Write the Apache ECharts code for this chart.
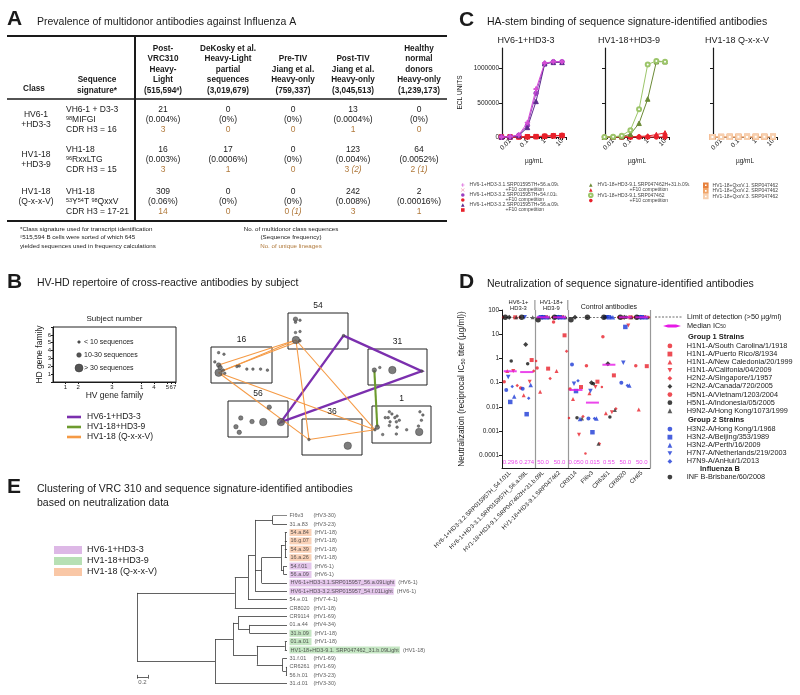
<!DOCTYPE html>
<html><head><meta charset="utf-8">
<script src="https://cdn.jsdelivr.net/npm/echarts@6/dist/echarts.min.js"></script>
<style>html,body{margin:0;padding:0;background:#fff}#c{width:800px;height:695px}</style>
</head><body><div id="c"></div>
<script>
const FONT = "'Liberation Sans', Arial, Helvetica, sans-serif";

// ---------------- Panel A : table data ----------------
const tableHeaders = [
  ['Post-', 'VRC310', 'Heavy-', 'Light', '(515,594{s|#})'],
  ['DeKosky et al.', 'Heavy-Light', 'partial', 'sequences', '(3,019,679)'],
  ['Pre-TIV', 'Jiang et al.', 'Heavy-only', '(759,337)'],
  ['Post-TIV', 'Jiang et al.', 'Heavy-only', '(3,045,513)'],
  ['Healthy', 'normal', 'donors', 'Heavy-only', '(1,239,173)']
];
const classNames = [['HV6-1', '+HD3-3'], ['HV1-18', '+HD3-9'], ['HV1-18', '(Q-x-x-V)']];
const signatures = [
  ['VH6-1 + D3-3', '{s|98}MIFGI', 'CDR H3 = 16'],
  ['VH1-18', '{s|96}RxxLTG', 'CDR H3 = 15'],
  ['VH1-18', '{s|53}Y{s|54}T {s|98}QxxV', 'CDR H3 = 17-21']
];
const seqCounts = [[21, 0, 0, 13, 0], [16, 17, 0, 123, 64], [309, 0, 0, 242, 2]];
const seqFreq = [
  ['0.004%', '0%', '0%', '0.0004%', '0%'],
  ['0.003%', '0.0006%', '0%', '0.004%', '0.0052%'],
  ['0.06%', '0%', '0%', '0.008%', '0.00016%']
];
const lineages = [
  ['3', '0', '0', '1', '0'],
  ['3', '1', '0', '3 {i|(2)}', '2 {i|(1)}'],
  ['14', '0', '0 {i|(1)}', '3', '1']
];

// ---------------- Panel B : subject repertoire ----------------
const subjects = ['54', '16', '31', '56', '36', '1'];
const pts54 = [[1.0,5.8,2],[1.0,5.2,1],[1.6,5.6,1],[1.0,3.2,1],[1.6,3.4,1],[1.06,1.75,3],[1.6,1.6,1],[7.4,2.6,1]];
const pts16 = [[1.0,5.9,1],[1.7,5.6,1],[0.5,4.1,1],[1.0,3.5,2],[1.2,3.0,2],[1.0,2.0,3],[1.6,2.5,1],[1.8,1.9,1],[3.4,3.2,1],[3.7,3.3,1],[4.7,2.7,1],[5.5,2.7,1],[6.5,2.7,1],[7.4,2.5,1]];
const pts31 = [[0.86,2.9,2],[1.6,3.4,1],[3.3,2.9,3],[7.3,2.7,1]];
const pts56 = [[5.5,5.8,2],[1.7,3.7,2],[3.2,3.0,2],[4.7,2.9,3],[7.05,2.9,3],[1.06,2.0,2],[1.5,0.9,2]];
const pts36 = [[0.93,3.0,1],[6.1,1.8,3]];
const pts1 = [[2.35,5.9,1],[2.7,5.5,1],[1.8,4.8,1],[2.2,4.8,1],[3.1,4.8,1],[3.4,5.1,1],[3.7,4.3,1],[2.45,4.0,1],[3.3,4.0,1],[2.35,3.3,1],[3.4,3.0,1],[4.7,2.5,1],[0.72,3.0,2],[1.45,1.6,1],[3.3,1.7,1],[0.4,2.5,1],[6.4,2.1,3],[6.5,5.9,1],[6.9,5.3,1],[6.7,4.3,1],[6.3,3.2,1]];
const subjectPts = {'54': pts54, '16': pts16, '31': pts31, '56': pts56, '36': pts36, '1': pts1};
const linkClasses = ['HV6-1+HD3-3', 'HV1-18+HD3-9', 'HV1-18 (Q-x-x-V)'];
const links = [
  [0, [['54',7],['31',3],['56',4],['54',7]]],
  [1, [['31',0],['1',12]]],
  [2, [['16',3],['54',5]]], [2, [['16',5],['54',5]]], [2, [['16',6],['54',6]]],
  [2, [['16',5],['1',15]]], [2, [['16',5],['36',0]]], [2, [['54',5],['36',0]]],
  [2, [['54',5],['1',15]]], [2, [['36',0],['1',15]]]
];
const sizeLegend = ['< 10 sequences', '10-30 sequences', '> 30 sequences'];
const hvTickLabels = ['1', '2', '3', '1', '4', '5', '6', '7'];

// ---------------- Panel C : binding ----------------
const concC = [0.00316, 0.01, 0.0316, 0.1, 0.316, 1, 3.16, 10];
const bindTitles = ['HV6-1+HD3-3', 'HV1-18+HD3-9', 'HV1-18 Q-x-x-V'];
const bindNames = [
  'HV6-1+HD3-3.1.SRP015957H+56.a.09L', 'HV6-1+HD3-3.1 c',
  'HV6-1+HD3-3.2.SRP015957H+54.f.01L', 'HV6-1+HD3-3.2a c',
  'HV6-1+HD3-3.2.SRP015957H+56.a.09L', 'HV6-1+HD3-3.2b c',
  'HV1-18+HD3-9.1.SRP047462H+31.b.09L', 'HV1-18+HD3-9.1a c',
  'HV1-18+HD3-9.1.SRP047462', 'HV1-18+HD3-9.1b c',
  'HV1-18+QxxV.1. SRP047462', 'HV1-18+QxxV.2. SRP047462', 'HV1-18+QxxV.3. SRP047462'
];
const bindPanel = [0,0,0,0,0,0,1,1,1,1,2,2,2];
const bindECL = [
  [0, 5000, 30000, 210000, 700000, 1080000, 1100000, 1100000],
  [0, 1000, 2000, 3000, 5000, 12000, 18000, 22000],
  [0, 3000, 25000, 170000, 640000, 1070000, 1100000, 1100000],
  [0, 1000, 2000, 4000, 6000, 14000, 20000, 25000],
  [0, 2000, 20000, 140000, 520000, 1070000, 1090000, 1090000],
  [0, 500, 1500, 3000, 5000, 10000, 16000, 20000],
  [0, 1000, 5000, 40000, 200000, 555000, 1100000, 1100000],
  [0, 1000, 2000, 3000, 8000, 15000, 35000, 60000],
  [0, 2000, 20000, 100000, 405000, 1060000, 1110000, 1100000],
  [0, 0, 500, 1000, 500, 1000, 500, 0],
  [0, 2000, 3000, 2000, 4000, 3000, 5000, 4000],
  [0, 1000, 2000, 3000, 2000, 4000, 3000, 5000],
  [0, 500, 1000, 2000, 1000, 2000, 2000, 3000]
];
const cTicksY = [0, 500000, 1000000];

// ---------------- Panel D : neutralization ----------------
const antibodies = ['HV6-1+HD3-3.2.SRP015957H_54.f.01L', 'HV6-1+HD3-3.1.SRP015957H_56.a.09L',
  'HV1-18+HD3-9.1.SRP047462H+31.b.09L', 'HV1-18+HD3-9.1.SRP047462', 'CR9114', 'FI6v3', 'CR6261', 'CR8020', 'CH65'];
const strainNames = ['H1N1-A/South Carolina/1/1918', 'H1N1-A/Puerto Rico/8/1934', 'H1N1-A/New Caledonia/20/1999',
  'H1N1-A/Califonia/04/2009', 'H2N2-A/Singapore/1/1957', 'H2N2-A/Canada/720/2005', 'H5N1-A/Vietnam/1203/2004',
  'H5N1-A/Indonesia/05/2005', 'H9N2-A/Hong Kong/1073/1999', 'H3N2-A/Hong Kong/1/1968', 'H3N2-A/Beijing/353/1989',
  'H3N2-A/Perth/16/2009', 'H7N7-A/Netherlands/219/2003', 'H7N9-A/AnHui/1/2013', 'INF B-Brisbane/60/2008'];
const neutIC50 = [
  [0.11, 0.06, 0.4, 32, 0.055, 0.5, 7.9, 50, 0.5],
  [50, 0.86, 0.38, 9, 0.066, 0.11, 0.2, 50, 0.48],
  [0.3, 0.03, 0.042, 0.3, 0.021, 0.037, 0.0055, 50, 0.0078],
  [0.3, 0.11, 50, 50, 0.0007, 0.066, 0.006, 23, 50],
  [0.076, 0.3, 0.15, 2, 0.004, 0.0003, 0.0083, 50, 50],
  [50, 3.8, 50, 50, 50, 0.1, 0.6, 50, 50],
  [50, 50, 0.78, 50, 0.0035, 0.00012, 0.066, 50, 50],
  [0.78, 0.6, 50, 50, 0.0036, 0.09, 0.0038, 50, 50],
  [50, 50, 50, 50, 0.0033, 0.0003, 0.0074, 50, 50],
  [0.05, 0.056, 50, 50, 0.56, 0.0033, 50, 0.1, 50],
  [0.016, 0.005, 50, 50, 0.045, 0.0009, 50, 20, 50],
  [0.027, 0.08, 50, 50, 0.0032, 0.0033, 50, 0.077, 50],
  [0.17, 50, 50, 50, 0.09, 0.045, 50, 0.66, 50],
  [0.07, 0.023, 50, 50, 0.12, 0.0033, 50, 0.077, 50],
  [50, 50, 40, 50, 40, 50, 50, 50, 50]
];
const medianIC50 = [0.296, 0.274, 50, 50, 0.050, 0.015, 0.55, 50, 50];
const medianLabels = ['0.296', '0.274', '50.0', '50.0', '0.050', '0.015', '0.55', '50.0', '50.0'];
const detectionLimit = 50;

// ---------------- Panel E : tree ----------------
const leafNames = ['FI6v3', '31.a.83', '54.a.84', '16.g.07', '54.a.39', '16.a.26', '54.f.01', '56.a.09',
  'HV6-1+HD3-3.1.SRP015957_56.a.09Light', 'HV6-1+HD3-3.2.SRP015957_54.f.01Light', '54.e.01', 'CR8020',
  'CR9114', '01.a.44', '31.b.09', '01.a.01', 'HV1-18+HD3-9.1. SRP047462_31.b.09Light', '31.f.01', 'CR6261', '56.h.01', '31.d.01'];
const leafGenes = ['HV3-30', 'HV3-23', 'HV1-18', 'HV1-18', 'HV1-18', 'HV1-18', 'HV6-1', 'HV6-1', 'HV6-1', 'HV6-1',
  'HV7-4-1', 'HV1-18', 'HV1-69', 'HV4-34', 'HV1-18', 'HV1-18', 'HV1-18', 'HV1-69', 'HV1-69', 'HV3-23', 'HV3-30'];
const leafClass = [0,0,3,3,3,3,1,1,1,1,0,0,0,0,2,2,2,0,0,0,0];
const treeTopology = [0, [
  [1.78, [
    [2.02, [
      [2.15, [
        [2.47, [0, 1]],
        [2.27, [
          [2.62, [[2.69, [2, 3, 4, 5]], [2.67, [6, 7]]]],
          8
        ]],
        9
      ]],
      10
    ]],
    11
  ]],
  [1.42, [
    [1.75, [
      [1.84, [12, [2.05, [13, 14]]]],
      [2.18, [[2.69, [15, 16]], [2.65, [17, [2.71, [18, 19]]]]]]
    ]],
    20
  ]]
]];
const tipDepth = 2.73;
const scaleBar = 0.2;
const treeClasses = ['HV6-1+HD3-3', 'HV1-18+HD3-9', 'HV1-18 (Q-x-x-V)'];

// ================= styles / layout =================
const classColors = ['#7b2fae', '#6d9b2e', '#f59a45'];
const hlColors = ['#ddb8e6', '#b7e0b4', '#f9c7a6'];
const bindStyle = [
  {c:'#d64fd6', s:'path://M4,0H6V4H10V6H6V10H4V6H0V4H4Z', z:5},
  {c:'#ee7d9c', s:'path://M1,0L5,4L9,0L10,1L6,5L10,9L9,10L5,6L1,10L0,9L4,5L0,1Z', z:3},
  {c:'#9b3fc0', s:'circle', z:4},
  {c:'#e8202a', s:'circle', z:3},
  {c:'#5c2a8c', s:'triangle', z:4},
  {c:'#e8202a', s:'rect', z:3},
  {c:'#6b8a36', s:'triangle', z:4},
  {c:'#e8202a', s:'triangle', z:3},
  {c:'#9cc56a', s:'emptyCircle', z:4},
  {c:'#e8202a', s:'circle', z:3},
  {c:'#e7813d', s:'emptyRect', z:3},
  {c:'#f0a468', s:'emptyRect', z:3},
  {c:'#f7cfae', s:'emptyRect', z:3}
];
const INV = 'path://M0,0L10,0L5,9Z';
const strainStyle = [
  {c:'#e8202a', s:'circle', z:3.5}, {c:'#e8202a', s:'rect', z:4}, {c:'#e8202a', s:'triangle', z:4},
  {c:'#e8202a', s:INV, z:4}, {c:'#e8202a', s:'diamond', z:3.5}, {c:'#111', s:'diamond', z:5},
  {c:'#e8202a', s:'circle', z:2.5}, {c:'#111', s:'circle', z:3.5}, {c:'#333', s:'triangle', z:4},
  {c:'#1c3ad6', s:'circle', z:4}, {c:'#1c3ad6', s:'rect', z:4.5}, {c:'#1c3ad6', s:'triangle', z:4.5},
  {c:'#1c3ad6', s:INV, z:4.5}, {c:'#1c3ad6', s:'diamond', z:3.5}, {c:'#111', s:'circle', z:5.5}
];
const strainOffset = [-6, 5, -3, 3, 7, -1, -7, 1, 6, -4, 0, 4, -2, 2, -5];
const sizeBySeq = [0, 2.6, 4.5, 7.5];

const subjGeom = {'54':[288,313,60,36], '16':[211,347,61,36], '31':[368,349,59,36], '56':[228,401,60,36], '36':[302,419,60,36], '1':[372,406,59,37]};
const grids = [
  {left:502, top:48, width:64, height:89},
  {left:605, top:48, width:64, height:89},
  {left:713, top:48, width:64, height:89},
  {left:502, top:310, width:148, height:158},
  {left:137, top:515.7, width:150, height:168},
  {left:53, top:327, width:123, height:55, show:true, borderColor:'#222', borderWidth:1}
];
subjects.forEach(s => { const g = subjGeom[s]; grids.push({left:g[0], top:g[1], width:g[2], height:g[3], show:true, borderColor:'#222', borderWidth:1}); });
const subjGrid = {}; subjects.forEach((s, i) => subjGrid[s] = 6 + i);
const hvTickPos = [1.0, 2.05, 4.8, 7.2, 8.2, 9.3, 9.6, 9.9];

// ================= helpers =================
function txt(x, y, text, o) {
  o = o || {};
  const st = {text: text, x: x, y: y, fill: o.fill || '#1a1a1a', fontSize: o.size || 8.5, fontFamily: FONT,
    fontWeight: o.weight || 'normal', fontStyle: o.style || 'normal',
    align: o.align || 'left', verticalAlign: o.va || 'middle', textAlign: o.align || 'left', textVerticalAlign: o.va || 'middle'};
  if (o.rich) st.rich = o.rich;
  const el = {type: 'text', silent: true, z: o.z || 10, style: st};
  if (o.rotation) el.rotation = o.rotation;
  return el;
}
function ln(x1, y1, x2, y2, w, c, dash) {
  const st = {stroke: c || '#1a1a1a', lineWidth: w || 1};
  if (dash) st.lineDash = dash;
  return {type: 'line', silent: true, z: 8, shape: {x1, y1, x2, y2}, style: st};
}
const supRich = (fs, fw) => ({
  s: {fontSize: fs, fontFamily: FONT, fontWeight: fw || 'normal', verticalAlign: 'top', fill: '#1a1a1a'},
  i: {fontSize: 8.3, fontFamily: FONT, fontStyle: 'italic', fill: '#b0793b'}
});
const logFmt = v => {
  const l = Math.log10(v);
  if (Math.abs(l - Math.round(l)) > 0.01) return '';
  const r = Math.round(l);
  return r >= 0 ? String(Math.pow(10, r)) : Math.pow(10, r).toFixed(-r);
};

// ================= graphic =================
const G = [];
// Panel A
G.push(txt(7, 19, 'A', {size: 21, weight: 'bold'}));
G.push(txt(37, 22, 'Prevalence of multidonor antibodies against Influenza A', {size: 10.5}));
G.push(ln(7, 36, 447, 36, 2));
G.push(ln(7, 99, 447, 99, 1.5));
G.push(ln(135, 36, 135, 221, 2));
G.push(ln(7, 221, 447, 221, 2));
const colX = [163, 228, 293, 353, 419];
G.push(txt(34, 89, 'Class', {size: 8.2, weight: 'bold', align: 'center'}));
G.push(txt(97, 80, 'Sequence', {size: 8.2, weight: 'bold', align: 'center'}));
G.push(txt(97, 90.5, 'signature*', {size: 8.2, weight: 'bold', align: 'center'}));
tableHeaders.forEach((L, c) => L.forEach((t, k) =>
  G.push(txt(colX[c], 90.5 - (L.length - 1 - k) * 10.5, t, {size: 8.2, weight: 'bold', align: 'center', rich: supRich(5.5, 'bold')}))));
const rowY = [110, 149.5, 192];
const classY = [[115, 125], [154.5, 164.5], [192, 202]];
classNames.forEach((L, r) => L.forEach((t, k) => G.push(txt(36, classY[r][k], t, {size: 8.5, align: 'center'}))));
signatures.forEach((L, r) => L.forEach((t, k) => G.push(txt(66, rowY[r] + k * 10, t, {size: 8.5, rich: supRich(5.5)}))));
seqCounts.forEach((row, r) => row.forEach((v, c) => {
  G.push(txt(colX[c], rowY[r], String(v), {size: 8.5, align: 'center'}));
  G.push(txt(colX[c], rowY[r] + 10, '(' + seqFreq[r][c] + ')', {size: 8.5, align: 'center'}));
  G.push(txt(colX[c], rowY[r] + 20, lineages[r][c], {size: 8.5, align: 'center', fill: '#b0793b', rich: supRich(5.5)}));
}));
G.push(txt(20, 229, '*Class signature used for transcript identification', {size: 6.2}));
G.push(txt(20, 237.5, '{s|#}515,594 B cells were sorted of which 645', {size: 6.2, rich: supRich(4.2)}));
G.push(txt(20, 246, 'yielded sequences used in frequency calculations', {size: 6.2}));
G.push(txt(291, 229, 'No. of multidonor class sequences', {size: 6.2, align: 'center'}));
G.push(txt(291, 237.5, '(Sequence frequency)', {size: 6.2, align: 'center'}));
G.push(txt(291, 246, 'No. of unique lineages', {size: 6.2, align: 'center', fill: '#b0793b'}));

// Panel B
G.push(txt(7, 282, 'B', {size: 21, weight: 'bold'}));
G.push(txt(37, 283, 'HV-HD repertoire of cross-reactive antibodies by subject', {size: 10.5}));
G.push(txt(114.5, 319, 'Subject number', {size: 8, align: 'center'}));
const legDotY = [342, 355, 368], legDotR = [1.3, 2.3, 4.0];
sizeLegend.forEach((t, i) => {
  G.push({type: 'circle', silent: true, z: 9, shape: {cx: 79, cy: legDotY[i], r: legDotR[i]}, style: {fill: '#555', stroke: '#333', lineWidth: 0.5}});
  G.push(txt(84, legDotY[i], t, {size: 7}));
});
linkClasses.forEach((t, i) => {
  G.push(ln(67, 417 + i * 10, 81, 417 + i * 10, 2.6, classColors[i]));
  G.push(txt(87, 417 + i * 10, t, {size: 8.5}));
});
subjects.forEach(s => { const g = subjGeom[s]; G.push(txt(g[0] + g[2] / 2, g[1] - 7, s, {size: 8.5, align: 'center'})); });

// Panel C
G.push(txt(459, 20, 'C', {size: 21, weight: 'bold'}));
G.push(txt(487, 22, 'HA-stem binding of sequence signature-identified antibodies', {size: 10.5}));
bindTitles.forEach((t, i) => G.push(txt(grids[i].left + 24, 41, t, {size: 9, align: 'center'})));

// Panel D
G.push(txt(459, 282, 'D', {size: 21, weight: 'bold'}));
G.push(txt(487, 284, 'Neutralization of sequence signature-identified antibodies', {size: 10.5}));
const catW = grids[3].width / antibodies.length;
G.push(txt(502 + catW, 302.5, 'HV6-1+', {size: 5.8, align: 'center'}));
G.push(txt(502 + catW, 308, 'HD3-3', {size: 5.8, align: 'center'}));
G.push(txt(502 + 3 * catW, 302.5, 'HV1-18+', {size: 5.8, align: 'center'}));
G.push(txt(502 + 3 * catW, 308, 'HD3-9', {size: 5.8, align: 'center'}));
G.push(txt(502 + 6.5 * catW, 307, 'Control antibodies', {size: 7, align: 'center'}));
G.push(ln(502 + 2 * catW, 300, 502 + 2 * catW, 310, 1.2, '#999'));
G.push(ln(502 + 4 * catW, 300, 502 + 4 * catW, 310, 1.2, '#999'));
G.push(ln(655, 317, 682, 317, 0.8, '#444', [2, 1.5]));
G.push(txt(687, 317, 'Limit of detection (>50 \u00b5g/ml)', {size: 7.3}));
G.push({type: 'polygon', silent: true, z: 9, shape: {points: [[663, 326], [668, 324.6], [676, 324.6], [681, 326], [676, 327.4], [668, 327.4]]}, style: {fill: '#e619e6'}});
G.push(txt(687, 326, 'Median IC{b|50}', {size: 7.3, rich: {b: {fontSize: 5, fontFamily: FONT, verticalAlign: 'bottom'}}}));
G.push(txt(688, 337, 'Group 1 Strains', {size: 7.5, weight: 'bold'}));
G.push(txt(688, 420, 'Group 2 Strains', {size: 7.5, weight: 'bold'}));
G.push(txt(700, 468.5, 'Influenza B', {size: 7.5, weight: 'bold'}));

// Panel E
G.push(txt(7, 487, 'E', {size: 21, weight: 'bold'}));
G.push(txt(37, 489, 'Clustering of VRC 310 and sequence signature-identified antibodies', {size: 10.5}));
G.push(txt(37, 503, 'based on neutralization data', {size: 10.5}));
treeClasses.forEach((t, i) => {
  G.push({type: 'rect', silent: true, z: 8, shape: {x: 54, y: 546 + i * 11, width: 28, height: 8}, style: {fill: hlColors[i]}});
  G.push(txt(87, 550 + i * 11, t, {size: 9}));
});

// ================= tree layout =================
const treeSegs = [];
function walk(node) {
  if (typeof node === 'number') return {y: node, d: tipDepth};
  const d = node[0];
  const kids = node[1].map(walk);
  const y0 = kids[0].y, y1 = kids[kids.length - 1].y;
  treeSegs.push([[d, y0], [d, y1]]);
  kids.forEach(k => treeSegs.push([[d, k.y], [k.d, k.y]]));
  return {y: (y0 + y1) / 2, d: d};
}
walk(treeTopology);
const sbY = 19.25;

// ================= series =================
const series = [];
bindNames.forEach((n, i) => {
  const st = bindStyle[i];
  series.push({
    type: 'line', name: n, xAxisIndex: bindPanel[i], yAxisIndex: bindPanel[i],
    data: concC.map((c, k) => [c, bindECL[i][k]]), symbol: st.s, symbolSize: st.s.startsWith('empty') ? 4 : 4.5,
    showSymbol: true, clip: false, z: st.z, color: st.c, lineStyle: {width: 1, color: st.c},
    itemStyle: {color: st.c, borderColor: st.c}
  });
});
strainNames.forEach((n, i) => {
  const st = strainStyle[i];
  series.push({
    type: 'scatter', name: n, xAxisIndex: 3, yAxisIndex: 3,
    data: neutIC50[i].map((v, k) => v == null ? null : [k, v]),
    symbol: st.s, symbolSize: st.z, symbolOffset: [strainOffset[i], 0], z: 3,
    itemStyle: {color: st.c}, color: st.c
  });
});
series.push({
  type: 'scatter', name: 'Median IC50', xAxisIndex: 3, yAxisIndex: 3, z: 6,
  data: medianIC50.map((v, k) => [k, v]), symbol: 'rect', symbolSize: [13, 2], itemStyle: {color: '#e619e6'},
  markLine: {silent: true, symbol: 'none', label: {show: false}, z: 1,
    lineStyle: {type: [2, 1.5], color: '#555', width: 0.8}, data: [{yAxis: detectionLimit}]}
});
series.push({
  type: 'scatter', name: 'medianText', xAxisIndex: 3, yAxisIndex: 3, z: 6, symbolSize: 0,
  data: medianLabels.map((t, k) => [k, 0.000052]),
  label: {show: true, position: 'inside', fontSize: 6, fontFamily: FONT, color: '#e619e6', formatter: p => medianLabels[p.dataIndex]}
});
// tree
series.push({
  type: 'lines', coordinateSystem: 'cartesian2d', xAxisIndex: 4, yAxisIndex: 4, silent: true, z: 3,
  data: treeSegs.map(s => ({coords: s})), lineStyle: {color: '#3a3a3a', width: 0.8, opacity: 1}
});
series.push({
  type: 'lines', coordinateSystem: 'cartesian2d', xAxisIndex: 4, yAxisIndex: 4, silent: true, z: 3,
  data: [{coords: [[0, sbY], [scaleBar, sbY]]}, {coords: [[0, sbY - 0.3], [0, sbY + 0.15]]}, {coords: [[scaleBar, sbY - 0.3], [scaleBar, sbY + 0.15]]}],
  lineStyle: {color: '#3a3a3a', width: 0.8, opacity: 1}
});
series.push({
  type: 'scatter', xAxisIndex: 4, yAxisIndex: 4, symbolSize: 0, silent: true,
  data: [[scaleBar / 2, sbY]],
  label: {show: true, position: 'bottom', distance: 1.5, fontSize: 6, fontFamily: FONT, color: '#333', formatter: String(scaleBar)}
});
const leafRich = {
  n: {fontSize: 5.5, fontFamily: FONT, color: '#333', height: 7},
  nw: {fontSize: 5.5, fontFamily: FONT, color: '#333', width: 21, height: 7},
  g: {fontSize: 5.5, fontFamily: FONT, color: '#333', padding: [0, 0, 0, 3]}
};
[1, 2, 3].forEach(c => {
  leafRich['h' + c] = {fontSize: 5.5, fontFamily: FONT, color: '#333', backgroundColor: hlColors[c - 1], height: 7, padding: [0, 1]};
  leafRich['h' + c + 'w'] = {fontSize: 5.5, fontFamily: FONT, color: '#333', backgroundColor: hlColors[c - 1], height: 7, width: 20, padding: [0, 1]};
});
series.push({
  type: 'scatter', xAxisIndex: 4, yAxisIndex: 4, symbolSize: 0, silent: true, z: 4,
  data: leafNames.map((n, i) => [tipDepth, i]),
  label: {show: true, position: 'right', distance: 2.5, rich: leafRich, formatter: p => {
    const i = p.dataIndex, n = leafNames[i], c = leafClass[i], short = n.length <= 8;
    const key = c ? ('h' + c + (short ? 'w' : '')) : (short ? 'nw' : 'n');
    return '{' + key + '|' + n + '}{g|(' + leafGenes[i] + ')}';
  }}
});
// subjects
subjects.forEach(s => {
  series.push({
    type: 'scatter', xAxisIndex: subjGrid[s], yAxisIndex: subjGrid[s], z: 4, silent: true,
    data: subjectPts[s].map(p => [p[0], p[1], p[2]]),
    symbolSize: v => sizeBySeq[v[2]],
    itemStyle: {color: '#5d5d5d', borderColor: '#2f2f2f', borderWidth: 0.5}
  });
});

// ================= axes =================
const xAxes = [], yAxes = [];
const axLine = {lineStyle: {color: '#1a1a1a', width: 1}};
for (let i = 0; i < 3; i++) {
  xAxes.push({type: 'log', gridIndex: i, min: 0.0034, max: 17, axisLine: {lineStyle: {color: '#1a1a1a', width: 1.2}},
    axisTick: {length: 3, lineStyle: {color: '#1a1a1a'}}, minorTick: {show: true, splitNumber: 5, length: 2, lineStyle: {color: '#1a1a1a'}},
    splitLine: {show: false}, minorSplitLine: {show: false},
    axisLabel: {rotate: 45, fontSize: 6.5, fontFamily: FONT, color: '#1a1a1a', margin: 3, showMinLabel: false, showMaxLabel: false, formatter: logFmt},
    name: '\u00b5g/mL', nameLocation: 'middle', nameGap: 21, nameTextStyle: {fontSize: 6.5, fontFamily: FONT, color: '#1a1a1a'}});
  yAxes.push({type: 'value', gridIndex: i, min: 0, max: 1300000, interval: 500000, axisLine: {show: true, lineStyle: {color: '#1a1a1a', width: 1.2}},
    axisTick: {show: true, length: 3, customValues: cTicksY}, splitLine: {show: false},
    axisLabel: {show: i === 0, fontSize: 6.5, fontFamily: FONT, color: '#1a1a1a', margin: 3, customValues: cTicksY, formatter: v => String(v)},
    name: i === 0 ? 'ECL UNITS' : '', nameLocation: 'middle', nameGap: 38, nameTextStyle: {fontSize: 6.5, fontFamily: FONT, color: '#1a1a1a'}});
}
xAxes.push({type: 'category', gridIndex: 3, data: antibodies, boundaryGap: true, axisLine: axLine,
  axisTick: {alignWithLabel: true, length: 3}, axisLabel: {rotate: 45, interval: 0, fontSize: 6, fontFamily: FONT, color: '#1a1a1a', margin: 4},
  splitLine: {show: true, interval: (i) => i === 2 || i === 4, lineStyle: {color: '#999', width: 1.2}}});
yAxes.push({type: 'log', gridIndex: 3, min: 0.00003, max: 100, axisLine: {show: true, lineStyle: {color: '#1a1a1a'}},
  axisTick: {show: true, length: 3}, splitLine: {show: false},
  axisLabel: {fontSize: 6.5, fontFamily: FONT, color: '#1a1a1a', margin: 3, showMinLabel: false, formatter: logFmt},
  name: 'Neutralization (reciprocal IC{b|50} titer (\u00b5g/ml))', nameLocation: 'middle', nameGap: 36,
  nameTextStyle: {fontSize: 8.3, fontFamily: FONT, color: '#1a1a1a', rich: {b: {fontSize: 5.5, fontFamily: FONT, color: '#1a1a1a', verticalAlign: 'bottom'}}}});
xAxes.push({type: 'value', gridIndex: 4, min: 0, max: tipDepth, show: false});
yAxes.push({type: 'value', gridIndex: 4, min: 0, max: leafNames.length - 1, inverse: true, show: false});
xAxes.push({type: 'value', gridIndex: 5, min: 0, max: 10, splitLine: {show: false}, axisLine: axLine,
  axisTick: {length: 2, customValues: hvTickPos},
  axisLabel: {fontSize: 6, fontFamily: FONT, color: '#1a1a1a', margin: 2, customValues: hvTickPos,
    formatter: v => { const k = hvTickPos.findIndex(p => Math.abs(p - v) < 1e-6); return k >= 0 ? hvTickLabels[k] : ''; }},
  name: 'HV gene family', nameLocation: 'middle', nameGap: 9, nameTextStyle: {fontSize: 8.5, fontFamily: FONT, color: '#1a1a1a'}});
yAxes.push({type: 'value', gridIndex: 5, min: 0, max: 7, interval: 1, splitLine: {show: false}, axisLine: axLine,
  axisTick: {length: 2}, axisLabel: {fontSize: 6, fontFamily: FONT, color: '#1a1a1a', margin: 2, formatter: v => (v >= 1 && v <= 6) ? String(v) : ''},
  name: 'HD gene family', nameLocation: 'middle', nameGap: 9, nameTextStyle: {fontSize: 8.5, fontFamily: FONT, color: '#1a1a1a'}});
subjects.forEach(s => {
  xAxes.push({type: 'value', gridIndex: subjGrid[s], min: 0, max: 8, show: false});
  yAxes.push({type: 'value', gridIndex: subjGrid[s], min: 0, max: 7, show: false});
});

// ================= legends =================
const cLegFmt = (name) => {
  if (name.endsWith(' c')) return '{ind| }+F10 competition';
  if (name.endsWith('L')) return name.slice(0, -1) + '{sub|L}';
  return name;
};
const cLegRich = (indent) => ({ind: {width: indent, fontSize: 5, fontFamily: FONT}, sub: {fontSize: 3.6, fontFamily: FONT, color: '#444', verticalAlign: 'bottom'}});
function cLegend(left, idxs, indent) {
  return {left: left, top: 182.5, orient: 'vertical', padding: 0, itemGap: 0, itemWidth: 3.6, itemHeight: 3.6,
    selectedMode: false, data: idxs.map(i => ({name: bindNames[i], icon: bindStyle[i].s})),
    formatter: cLegFmt, textStyle: {fontSize: 5, lineHeight: 4.85, fontFamily: FONT, color: '#444', rich: cLegRich(indent)}};
}
function dLegend(top, idxs) {
  return {left: 667.5, top: top, orient: 'vertical', padding: 0, itemGap: 0, itemWidth: 4.8, itemHeight: 4.8,
    selectedMode: false, data: idxs.map(i => ({name: strainNames[i]})),
    formatter: name => '{p| }' + name,
    textStyle: {fontSize: 7.3, lineHeight: 8.1, fontFamily: FONT, color: '#222', rich: {p: {width: 9.5, fontSize: 7.3}}}};
}
const legends = [
  cLegend(461, [0, 1, 2, 3, 4, 5], 36),
  cLegend(588, [6, 7, 8, 9], 32),
  cLegend(703, [10, 11, 12], 0),
  dLegend(341.9, [0, 1, 2, 3, 4, 5, 6, 7, 8]),
  dLegend(425, [9, 10, 11, 12, 13]),
  dLegend(473, [14])
];

const option = {
  animation: false, backgroundColor: '#ffffff', textStyle: {fontFamily: FONT},
  grid: grids, xAxis: xAxes, yAxis: yAxes, legend: legends, series: series
};
const chart = echarts.init(document.getElementById('c'));
chart.setOption(option);

// network links between subjects (pixel positions obtained from each subject grid's axes)
function P(s, i) { const gi = subjGrid[s]; const p = subjectPts[s][i]; return chart.convertToPixel({xAxisIndex: gi, yAxisIndex: gi}, [p[0], p[1]]); }
const linkW = [2.3, 2.1, 1.1];
links.forEach(l => {
  G.push({type: 'polyline', silent: true, z: 1, shape: {points: l[1].map(q => P(q[0], q[1]))},
    style: {stroke: classColors[l[0]], lineWidth: linkW[l[0]], fill: null}});
});
chart.setOption({graphic: {elements: G}});
</script>
</body></html>
